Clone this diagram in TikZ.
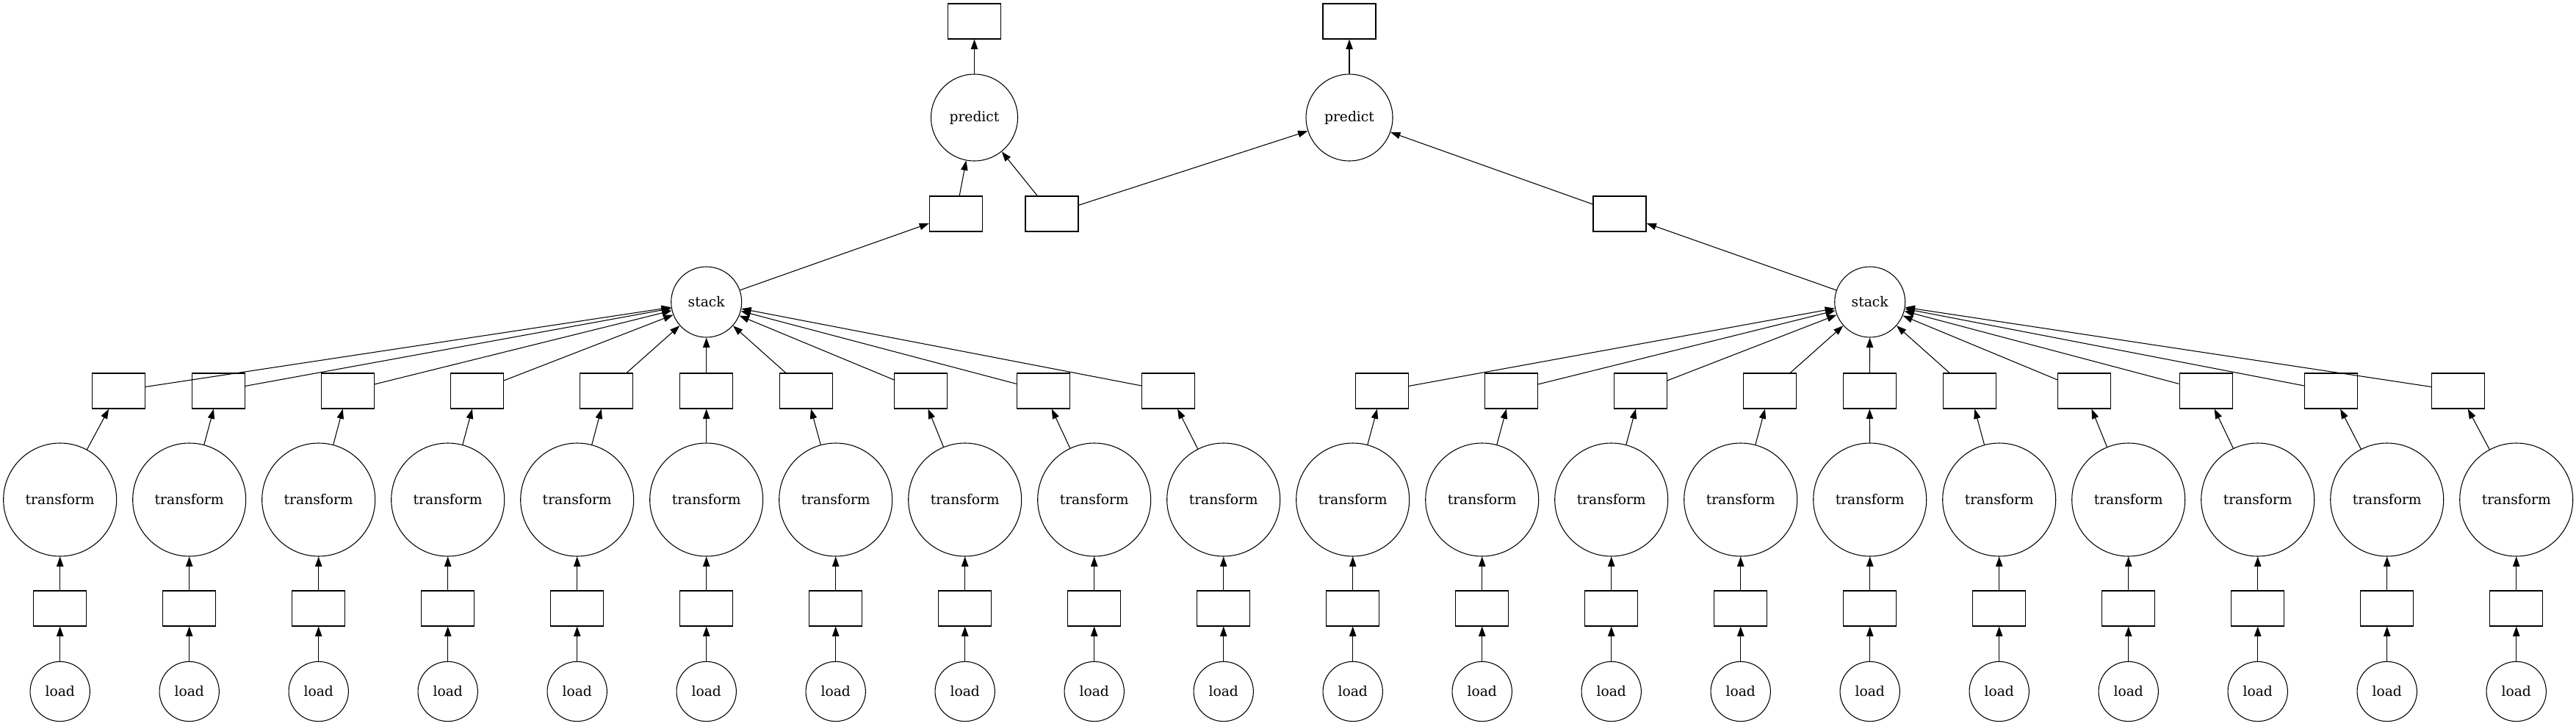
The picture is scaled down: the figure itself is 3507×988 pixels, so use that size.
\documentclass[tikz,border=0pt]{standalone}
\usepackage{fontspec}
\setmainfont{DejaVu Serif}
\usetikzlibrary{arrows.meta}

\tikzset{
  box/.style={draw, rectangle, minimum width=54pt, minimum height=36pt, inner sep=0pt, line width=0.8pt},
  task/.style={draw, circle, minimum size=#1, inner sep=0pt, line width=0.8pt, font=\fontsize{14}{16}\selectfont},
  dep/.style={-{Triangle[length=10pt,width=7pt]}, line width=0.8pt},
}

\begin{document}
\begin{tikzpicture}[x=0.75pt, y=-0.75pt]
	%%%%% START %%%%%
	\useasboundingbox (0,0) rectangle (3507,988);
	
	% results
	\node[box] (out1) at (1326.5,29) {};
	\node[box] (out2) at (1837,29) {};
	\node[task=88.5pt] (pred1) at (1326.5,160) {predict};
	\node[task=88.5pt] (pred2) at (1837,160) {predict};
	
	% model chunks
	\node[box] (mid1) at (1301.5,291) {};
	\node[box] (mid2) at (1432,291) {};
	\node[box] (mid3) at (2205,291) {};
	
	\node[task=72pt] (stack1) at (961.7,411) {stack};
	\node[task=72pt] (stack2) at (2545.7,411) {stack};
	
	% columns: load -> chunk -> transform -> chunk -> stack
	\foreach \i/\bx/\st in {1/161.3/stack1, 2/297.5/stack1, 3/473.3/stack1, 4/649.5/stack1, 5/825.3/stack1,
	                        6/961.7/stack1, 7/1097.3/stack1, 8/1253.5/stack1, 9/1420.2/stack1, 10/1590.7/stack1,
	                        11/1881.5/stack2, 12/2057.5/stack2, 13/2233.5/stack2, 14/2409.5/stack2, 15/2545.3/stack2,
	                        16/2681.7/stack2, 17/2837.5/stack2, 18/3003/stack2, 19/3173.5/stack2, 20/3346.7/stack2}
	{
		\pgfmathsetmacro\tx{81.7+176*(\i-1)}
		\node[task=61pt] (load\i) at (\tx,941) {load};
		\node[box] (raw\i) at (\tx,828) {};
		\node[task=115.5pt] (tf\i) at (\tx,680) {transform};
		\node[box] (part\i) at (\bx,532) {};
		
		\draw[dep] (load\i) -- (raw\i);
		\draw[dep] (raw\i) -- (tf\i);
		\draw[dep] (tf\i) -- (part\i);
		\draw[dep] (part\i) -- (\st);
	}
	
	\draw[dep] (stack1) -- (mid1);
	\draw[dep] (stack2) -- (mid3);
	\draw[dep] (mid1) -- (pred1);
	\draw[dep] (mid2) -- (pred1);
	\draw[dep] (mid2) -- (pred2);
	\draw[dep] (mid3) -- (pred2);
	\draw[dep] (pred1) -- (out1);
	\draw[dep] (pred2) -- (out2);
	
	%%%%% END %%%%%
\end{tikzpicture}
\end{document}
